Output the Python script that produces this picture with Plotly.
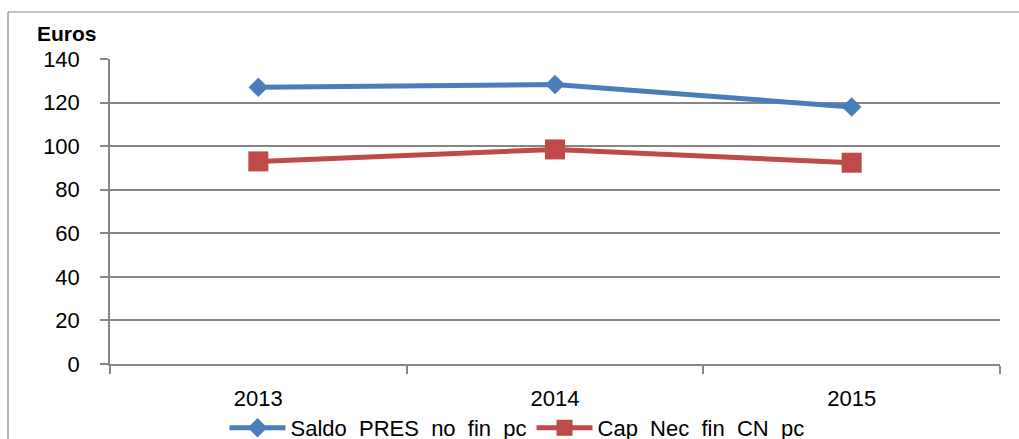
import plotly.graph_objects as go

# Data
years = ["2013", "2014", "2015"]
saldo_pres = [127.0, 128.3, 118.0]
cap_nec = [93.0, 98.5, 92.4]
series_names = ["Saldo\u00a0 PRES\u00a0 no\u00a0 fin\u00a0 pc", "Cap\u00a0 Nec\u00a0 fin\u00a0 CN\u00a0 pc"]
y_ticks = [0, 20, 40, 60, 80, 100, 120, 140]

W, H = 1019, 439
L, R, T, B = 110, 19, 59, 75
pw, ph = W - L - R, H - T - B

def px_x(x):
    return (x - L) / pw

def px_y(y):
    return (H - B - y) / ph

FONT = "Liberation Sans"
GRID = "#868686"

fig = go.Figure()
fig.add_trace(go.Scatter(
    x=years, y=saldo_pres, name=series_names[0], mode="lines+markers",
    line=dict(color="#4A7EBB", width=5),
    marker=dict(symbol="diamond", size=15, color="#4A7EBB"),
))
fig.add_trace(go.Scatter(
    x=years, y=cap_nec, name=series_names[1], mode="lines+markers",
    line=dict(color="#BE4B48", width=5),
    marker=dict(symbol="square", size=20, color="#BE4B48"),
))

fig.update_layout(
    width=W, height=H,
    margin=dict(l=L, r=R, t=T, b=B, autoexpand=False),
    paper_bgcolor="white", plot_bgcolor="white",
    font=dict(family=FONT, size=22, color="black"),
    showlegend=True,
    legend=dict(orientation="h", xref="container", yref="container",
                x=517 / W, y=1 - 428 / H,
                xanchor="center", yanchor="middle",
                font=dict(family=FONT, size=22), itemwidth=56,
                bgcolor="rgba(0,0,0,0)", tracegroupgap=0),
    xaxis=dict(type="category", range=[-0.5, 2.5], tickson="boundaries",
               ticks="outside", ticklen=8, tickcolor=GRID, tickwidth=1.5,
               showline=True, linecolor=GRID, linewidth=1.5,
               showgrid=False, zeroline=False, ticklabelstandoff=14),
    yaxis=dict(range=[0, 140], tickvals=y_ticks,
               ticks="outside", ticklen=8, tickcolor=GRID, tickwidth=1.5,
               showline=True, linecolor=GRID, linewidth=1.5,
               showgrid=True, gridcolor=GRID, gridwidth=1.5,
               zeroline=False, ticklabelstandoff=16),
    annotations=[dict(text="<b>Euros</b>", x=px_x(35), y=px_y(34),
                      xref="paper", yref="paper", xanchor="left", yanchor="middle",
                      showarrow=False, font=dict(family=FONT, size=21))],
    shapes=[
        dict(type="line", xref="paper", yref="paper",
             x0=px_x(8), x1=px_x(1030), y0=px_y(12), y1=px_y(12),
             line=dict(color=GRID, width=1.2)),
        dict(type="line", xref="paper", yref="paper",
             x0=px_x(8), x1=px_x(8), y0=px_y(12), y1=px_y(450),
             line=dict(color=GRID, width=1.2)),
    ],
)

fig.write_html("out.html")
